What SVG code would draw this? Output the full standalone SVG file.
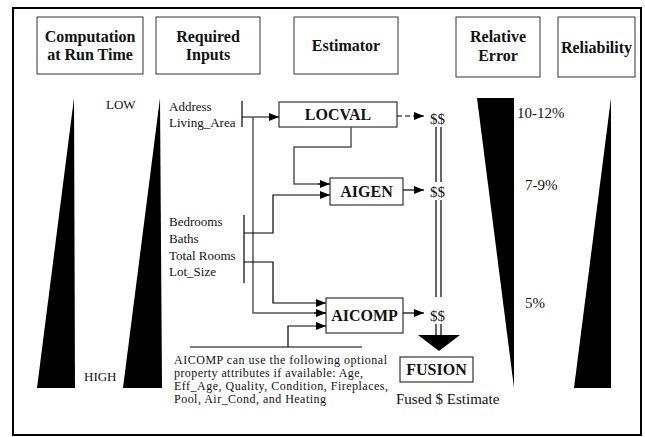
<svg xmlns="http://www.w3.org/2000/svg" width="645" height="437" viewBox="0 0 645 437">
<style>
.hb{fill:#fff;stroke:#333;stroke-width:1}
.ht{font-family:"Liberation Serif",serif;font-weight:bold;font-size:16px;text-anchor:middle;fill:#111}
.t{font-family:"Liberation Serif",serif;font-size:13px;fill:#111}
.n{font-family:"Liberation Serif",serif;font-size:12px;fill:#111}
.p{font-family:"Liberation Serif",serif;font-size:15px;fill:#111}
.nb{fill:#fff;stroke:#333;stroke-width:1.2}
.nt{font-family:"Liberation Serif",serif;font-weight:bold;font-size:16px;text-anchor:middle;fill:#111}
.w{fill:#000}
.c{fill:none;stroke:#000;stroke-width:1.2}
.g{fill:none;stroke:#555;stroke-width:1.5}
</style>
<defs>
<marker id="ah" viewBox="0 0 10 8" refX="10" refY="4" markerWidth="10" markerHeight="8" markerUnits="userSpaceOnUse" orient="auto">
<path d="M0,0 L10,4 L0,8 Z" fill="#000"/>
</marker>
</defs>
<rect x="13" y="8" width="628" height="427" fill="#fff" stroke="#000" stroke-width="2"/>

<g id="h-computation"><rect class="hb" x="37" y="17" width="106" height="57"/><text class="ht" x="90" y="42">Computation</text><text class="ht" x="90" y="60">at Run Time</text></g>
<g id="h-required"><rect class="hb" x="156" y="17" width="104" height="57"/><text class="ht" x="208" y="42">Required</text><text class="ht" x="208" y="60">Inputs</text></g>
<g id="h-estimator"><rect class="hb" x="294" y="17" width="104" height="57"/><text class="ht" x="346" y="51">Estimator</text></g>
<g id="h-relerror"><rect class="hb" x="456" y="17" width="84" height="60"/><text class="ht" x="498" y="42">Relative</text><text class="ht" x="498" y="61">Error</text></g>
<g id="h-reliability"><rect class="hb" x="558" y="17" width="77" height="60"/><text class="ht" x="596.5" y="53">Reliability</text></g>

<g id="wedges">
<polygon class="w" points="74,98 75,388 37,388"/>
<polygon class="w" points="160,98 162,388 123,388"/>
<polygon class="w" points="477,98 514,98 514,388"/>
<polygon class="w" points="611,98 611,388 574,388"/>
</g>

<g id="labels">
<text class="t" x="106" y="109">LOW</text>
<text class="t" x="84" y="381">HIGH</text>
<text class="p" x="517" y="118">10-12%</text>
<text class="p" x="525" y="190">7-9%</text>
<text class="p" x="525" y="308">5%</text>
</g>

<g id="inputs-a">
<text class="t" x="169" y="111">Address</text>
<text class="t" x="169" y="127">Living_Area</text>
</g>
<g id="inputs-b">
<text class="t" x="169" y="226">Bedrooms</text>
<text class="t" x="169" y="243">Baths</text>
<text class="t" x="169" y="260">Total Rooms</text>
<text class="t" x="169" y="276">Lot_Size</text>
</g>
<g id="optional-note">
<text class="n" x="174" y="364" textLength="213" lengthAdjust="spacing">AICOMP can use the following optional</text>
<text class="n" x="174" y="377" textLength="189" lengthAdjust="spacing">property attributes if available: Age,</text>
<text class="n" x="174" y="390" textLength="214" lengthAdjust="spacing">Eff_Age, Quality, Condition, Fireplaces,</text>
<text class="n" x="174" y="403" textLength="152" lengthAdjust="spacing">Pool, Air_Cond, and Heating</text>
</g>

<g id="locval"><rect class="nb" x="279" y="102" width="118" height="25"/><text class="nt" x="338" y="120">LOCVAL</text></g>
<g id="aigen"><rect class="nb" x="330" y="178" width="73" height="27"/><text class="nt" x="366.5" y="197">AIGEN</text></g>
<g id="aicomp"><rect class="nb" x="326" y="298" width="77" height="35"/><text class="nt" x="364.5" y="321">AICOMP</text></g>
<g id="fusion"><rect class="nb" x="400" y="357" width="73" height="25"/><text class="nt" x="436.5" y="375">FUSION</text><text class="p" x="396" y="404" font-size="16">Fused $ Estimate</text></g>

<g id="dollars">
<text class="p" x="430" y="124">$$</text>
<text class="p" x="430" y="197">$$</text>
<text class="p" x="430" y="321">$$</text>
</g>

<g id="connectors">
<line class="c" x1="242" y1="101" x2="242" y2="127"/>
<line class="c" x1="244" y1="215" x2="244" y2="283"/>
<line class="c" x1="242" y1="117" x2="279" y2="117" marker-end="url(#ah)"/>
<polyline class="g" points="253,117 253,313 326,313"/>
<line class="c" x1="314" y1="313" x2="326" y2="313" marker-end="url(#ah)"/>
<polyline class="g" points="351,127 351,147 294,147 294,184 320,184"/>
<line class="c" x1="318" y1="184" x2="330" y2="184" marker-end="url(#ah)"/>
<polyline class="c" points="244,233 273,233 273,195 330,195" marker-end="url(#ah)"/>
<polyline class="c" points="244,262 273,262 273,303 326,303" marker-end="url(#ah)"/>
<line class="g" x1="190" y1="347" x2="362" y2="347"/>
<polyline class="c" points="288,347 288,326 326,326" marker-end="url(#ah)"/>
<line class="c" x1="397" y1="116" x2="424" y2="116" stroke-dasharray="5,3" marker-end="url(#ah)"/>
<line class="c" x1="403" y1="190" x2="424" y2="190" marker-end="url(#ah)"/>
<line class="c" x1="403" y1="313" x2="424" y2="313" marker-end="url(#ah)"/>
<g stroke="#000" stroke-width="1.2">
<line x1="436" y1="127" x2="436" y2="182"/><line x1="441" y1="127" x2="441" y2="182"/>
<line x1="436" y1="200" x2="436" y2="297"/><line x1="441" y1="200" x2="441" y2="297"/>
<line x1="436" y1="324" x2="436" y2="336"/><line x1="441" y1="324" x2="441" y2="336"/>
</g>
<polygon points="418,335 460,335 439,351" fill="#000"/>
</g>
</svg>
